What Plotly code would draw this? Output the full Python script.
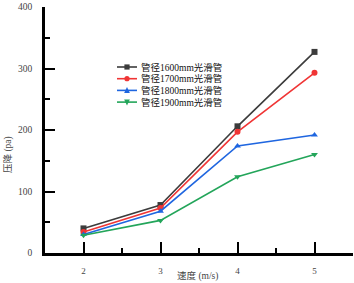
import plotly.graph_objects as go

speed = [2, 3, 4, 5]
names = ["管径1600mm光滑管", "管径1700mm光滑管", "管径1800mm光滑管", "管径1900mm光滑管"]
p1600 = [40, 78, 206, 327]
p1700 = [34, 73, 197, 293]
p1800 = [30, 68, 174, 192]
p1900 = [29, 53, 124, 160]

colors = ["#3c3c3c", "#f03535", "#1f66e0", "#23a55a"]
symbols = ["square", "circle", "triangle-up", "triangle-down"]
series = [p1600, p1700, p1800, p1900]

FONT = "Liberation Serif, Noto Sans CJK SC, serif"

W, H = 354, 283
L, R, T, B = 45, 1, 7, 30
PW, PH = W - L - R, H - T - B


def px_x(px):
    return (px - L) / PW


def px_y(py):
    return (H - B - py) / PH


fig = go.Figure()
for n, s, c, m in zip(names, series, colors, symbols):
    fig.add_trace(go.Scatter(
        x=speed, y=s, name=n, mode="lines+markers",
        line=dict(color=c, width=1.6),
        marker=dict(symbol=m, size=6, color=c),
        showlegend=False,
    ))

# custom compact legend (layout decoration)
shapes = []
annotations = []
for i, (n, c, m) in enumerate(zip(names, colors, symbols)):
    py = 67 + 11.7 * i
    y0 = px_y(py)
    shapes.append(dict(type="line", xref="paper", yref="paper",
                       x0=px_x(117), x1=px_x(137), y0=y0, y1=y0,
                       line=dict(color=c, width=1.6)))
    cx = px_x(127)
    dx = 2.6 / PW
    dy = 2.6 / PH
    if m == "square":
        path = f"M{cx-dx},{y0-dy} L{cx+dx},{y0-dy} L{cx+dx},{y0+dy} L{cx-dx},{y0+dy} Z"
    elif m == "circle":
        shapes.append(dict(type="circle", xref="paper", yref="paper",
                           x0=cx - dx, x1=cx + dx, y0=y0 - dy, y1=y0 + dy,
                           fillcolor=c, line=dict(color=c, width=0)))
        path = None
    elif m == "triangle-up":
        path = f"M{cx-dx*1.1},{y0-dy} L{cx+dx*1.1},{y0-dy} L{cx},{y0+dy*1.3} Z"
    else:
        path = f"M{cx-dx*1.1},{y0+dy} L{cx+dx*1.1},{y0+dy} L{cx},{y0-dy*1.3} Z"
    if path:
        shapes.append(dict(type="path", xref="paper", yref="paper", path=path,
                           fillcolor=c, line=dict(color=c, width=0)))
    annotations.append(dict(text=n, xref="paper", yref="paper", x=px_x(139), y=y0,
                            xanchor="left", yanchor="middle", showarrow=False,
                            font=dict(size=9.5, color="#111")))

annotations += [
    dict(text="速度 (m/s)", xref="paper", yref="paper", x=px_x(197), y=px_y(276),
         xanchor="center", yanchor="middle", showarrow=False,
         font=dict(size=9.5, color="#444")),
    dict(text="压降 (pa)", xref="paper", yref="paper", x=px_x(8), y=px_y(155),
         xanchor="center", yanchor="middle", showarrow=False, textangle=-90,
         font=dict(size=9.5, color="#444")),
]

fig.update_layout(
    width=W, height=H,
    margin=dict(l=L, r=R, t=T, b=B),
    plot_bgcolor="white", paper_bgcolor="white",
    font=dict(family=FONT, size=10, color="#333"),
    showlegend=False,
    xaxis=dict(range=[1.5, 5.5], tickvals=[2, 3, 4, 5], showgrid=False, zeroline=False,
               showline=True, linecolor="black", linewidth=2.5,
               ticks="inside", ticklen=11, tickwidth=2, tickcolor="black",
               ticklabelstandoff=7, tickfont=dict(size=9, color="#444"),
               minor=dict(ticks="inside", ticklen=5, tickwidth=2, tickcolor="black",
                          tickvals=[1.5, 2.5, 3.5, 4.5, 5.5])),
    yaxis=dict(range=[0, 400], tickvals=[0, 100, 200, 300, 400], showgrid=False, zeroline=False,
               showline=True, linecolor="black", linewidth=2.5,
               ticks="inside", ticklen=10, tickwidth=2, tickcolor="black",
               ticklabelstandoff=8, tickfont=dict(size=9.5, color="#444"),
               minor=dict(ticks="inside", ticklen=5, tickwidth=2, tickcolor="black",
                          tickvals=[50, 150, 250, 350])),
    shapes=shapes,
    annotations=annotations,
)

fig.write_html("out.html", config={"displayModeBar": False},
               post_script="document.body.style.margin='0px';")
